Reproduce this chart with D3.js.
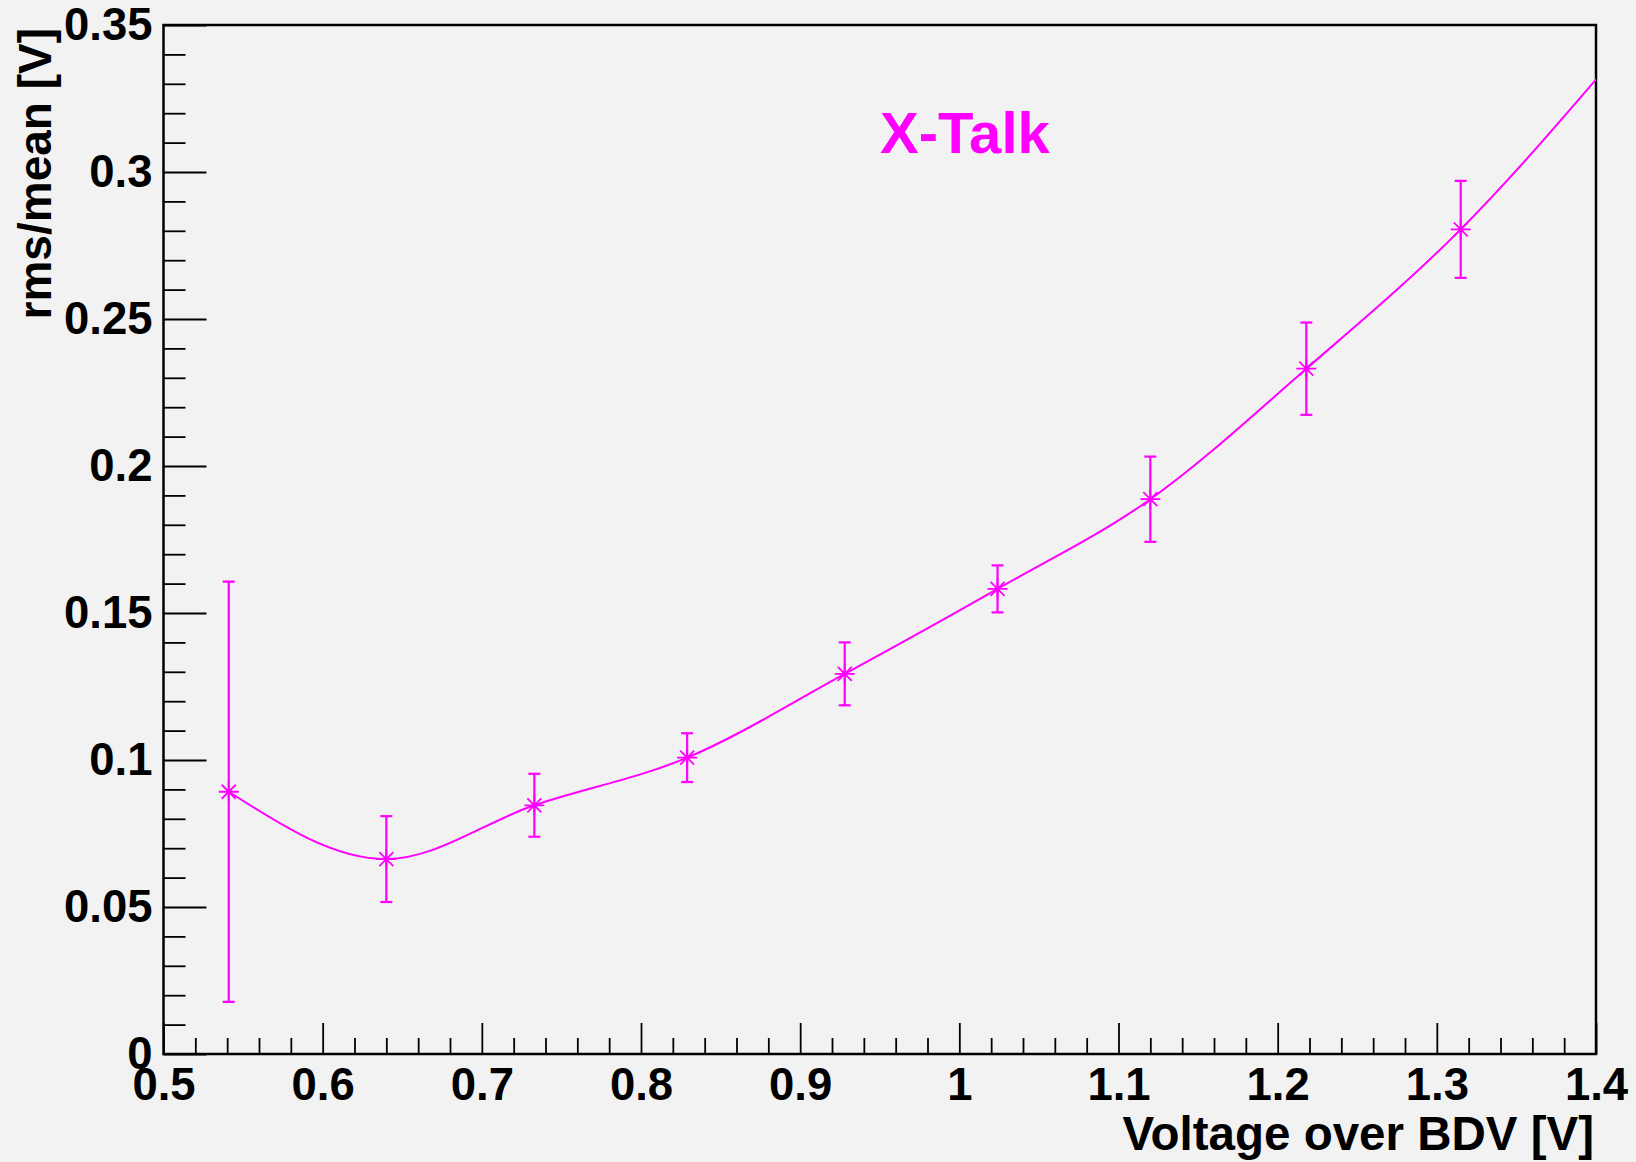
<!DOCTYPE html>
<html>
<head>
<meta charset="utf-8">
<script src="https://cdn.jsdelivr.net/npm/d3@7"></script>
<style>
  body { margin: 0; background: #f2f2f2; }
  text { font-family: "Liberation Sans", Arial, sans-serif; font-weight: bold; }
</style>
</head>
<body>
<div id="chart"></div>
<script>
var W = 1636, H = 1162;
var margin = { top: 25, right: 40, bottom: 108, left: 163.5 };
var width = W - margin.left - margin.right,
    height = H - margin.top - margin.bottom;

// measured points (voltage over BDV, rms/mean, error)
var voltage = [0.541, 0.640, 0.733, 0.829, 0.928, 1.024, 1.120, 1.218, 1.315, 1.412];
var rmsMean = [0.0892, 0.0663, 0.0846, 0.1008, 0.1293, 0.1582, 0.1887, 0.2331, 0.2805, 0.339];
var rmsErr  = [0.0715, 0.0146, 0.0107, 0.0083, 0.0107, 0.0080, 0.0145, 0.0157, 0.0165, 0.017];
// last point sits just outside the frame, only the curve reaches it

var xTicks = [0.5, 0.6, 0.7, 0.8, 0.9, 1.0, 1.1, 1.2, 1.3, 1.4];
var xTickLabels = ["0.5", "0.6", "0.7", "0.8", "0.9", "1", "1.1", "1.2", "1.3", "1.4"];
var yTicks = [0, 0.05, 0.1, 0.15, 0.2, 0.25, 0.3, 0.35];
var yTickLabels = ["0", "0.05", "0.1", "0.15", "0.2", "0.25", "0.3", "0.35"];

var data = voltage.map(function(v, i) {
    return { x: v, y: rmsMean[i], e: rmsErr[i] };
});

var magenta = "#ff00ff";

var svg = d3.select("#chart").append("svg")
    .attr("width", W)
    .attr("height", H)
    .style("background", "#f2f2f2")
    .append("g")
    .attr("transform", "translate(" + margin.left + "," + margin.top + ")");

var x = d3.scaleLinear().domain([0.5, 1.4]).range([0, width]);
var y = d3.scaleLinear().domain([0, 0.35]).range([height, 0]);

// minor ticks
var xMinor = d3.range(0.5, 1.4001, 0.02).filter(function(v) {
    return Math.abs(Math.round(v * 10) - v * 10) > 1e-6;
});
var yMinor = d3.range(0, 0.3501, 0.01).filter(function(v) {
    return Math.abs(Math.round(v * 20) - v * 20) > 1e-6;
});

svg.append("g")
    .attr("class", "axis x-minor")
    .attr("transform", "translate(0," + height + ")")
    .call(d3.axisBottom(x).tickValues(xMinor).tickSizeInner(-16).tickSizeOuter(0).tickFormat(""));

svg.append("g")
    .attr("class", "axis y-minor")
    .call(d3.axisLeft(y).tickValues(yMinor).tickSizeInner(-22).tickSizeOuter(0).tickFormat(""));

var xAxisG = svg.append("g")
    .attr("class", "axis x-axis")
    .attr("transform", "translate(0," + height + ")")
    .call(d3.axisBottom(x).tickValues(xTicks).tickSizeInner(-31).tickSizeOuter(0).tickPadding(14)
        .tickFormat(function(d, i) { return xTickLabels[i]; }));

var yAxisG = svg.append("g")
    .attr("class", "axis y-axis")
    .call(d3.axisLeft(y).tickValues(yTicks).tickSizeInner(-43).tickSizeOuter(0).tickPadding(11)
        .tickFormat(function(d, i) { return yTickLabels[i]; }));

svg.selectAll(".axis .domain").remove();
svg.selectAll(".axis line").attr("stroke", "#000").attr("stroke-width", 1.8);
svg.selectAll(".axis text")
    .attr("fill", "#000")
    .style("font-size", "45.5px")
    .style("font-family", "'Liberation Sans', Arial, sans-serif")
    .style("font-weight", "bold");

// frame
svg.append("rect")
    .attr("x", 0).attr("y", 0)
    .attr("width", width).attr("height", height)
    .attr("fill", "none")
    .attr("stroke", "#000")
    .attr("stroke-width", 2.5);

svg.append("clipPath").attr("id", "frameClip")
    .append("rect").attr("width", width).attr("height", height);

var plot = svg.append("g").attr("clip-path", "url(#frameClip)");

var line = d3.line()
    .x(function(d) { return x(d.x); })
    .y(function(d) { return y(d.y); })
    .curve(d3.curveMonotoneX);

plot.append("path")
    .datum(data)
    .attr("d", line)
    .attr("fill", "none")
    .attr("stroke", magenta)
    .attr("stroke-width", 2);

// error bars
var bars = plot.selectAll(".err").data(data).enter().append("g").attr("class", "err");
bars.append("line")
    .attr("x1", function(d) { return x(d.x); })
    .attr("x2", function(d) { return x(d.x); })
    .attr("y1", function(d) { return y(d.y + d.e); })
    .attr("y2", function(d) { return y(d.y - d.e); });
bars.append("line")
    .attr("x1", function(d) { return x(d.x) - 6; })
    .attr("x2", function(d) { return x(d.x) + 6; })
    .attr("y1", function(d) { return y(d.y + d.e); })
    .attr("y2", function(d) { return y(d.y + d.e); });
bars.append("line")
    .attr("x1", function(d) { return x(d.x) - 6; })
    .attr("x2", function(d) { return x(d.x) + 6; })
    .attr("y1", function(d) { return y(d.y - d.e); })
    .attr("y2", function(d) { return y(d.y - d.e); });
bars.selectAll("line").attr("stroke", magenta).attr("stroke-width", 2.2);

// asterisk markers
plot.selectAll(".marker").data(data).enter().append("path")
    .attr("class", "marker")
    .attr("transform", function(d) { return "translate(" + x(d.x) + "," + y(d.y) + ")"; })
    .attr("d", "M-10,0H10M0,-10V10M-7,-7L7,7M-7,7L7,-7")
    .attr("stroke", magenta)
    .attr("stroke-width", 1.8)
    .attr("fill", "none");
plot.selectAll(".dot").data(data).enter().append("circle")
    .attr("cx", function(d) { return x(d.x); })
    .attr("cy", function(d) { return y(d.y); })
    .attr("r", 2.5)
    .attr("fill", magenta);

// axis titles
svg.append("text")
    .attr("x", width - 2)
    .attr("y", height + 96)
    .attr("text-anchor", "end")
    .style("font-size", "47.5px")
    .text("Voltage over BDV [V]");

svg.append("text")
    .attr("transform", "translate(" + (51 - margin.left) + ",0) rotate(-90)")
    .attr("x", -3)
    .attr("y", 0)
    .attr("text-anchor", "end")
    .style("font-size", "46px")
    .text("rms/mean [V]");

svg.append("text")
    .attr("x", 880 - margin.left)
    .attr("y", 153 - margin.top)
    .attr("fill", magenta)
    .style("font-size", "58px")
    .text("X-Talk");
</script>
</body>
</html>
